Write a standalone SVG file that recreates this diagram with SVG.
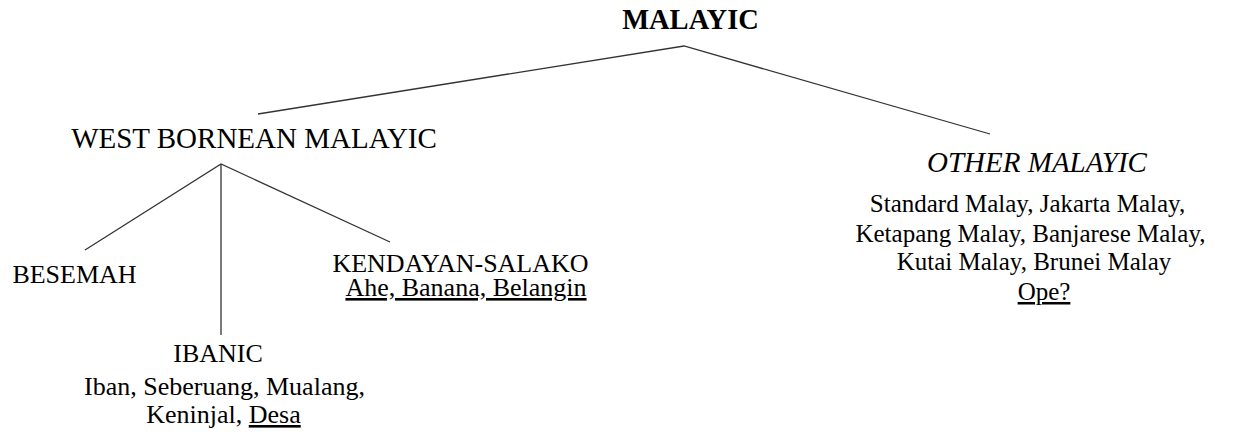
<svg xmlns="http://www.w3.org/2000/svg" width="1233" height="434" viewBox="0 0 1233 434" font-family="'Liberation Serif', 'Times New Roman', 'DejaVu Serif', serif">
<style>
text{font-family:'Liberation Serif','Times New Roman','DejaVu Serif',serif;fill:#000;text-anchor:middle}
.h{font-size:29px}
.b{font-size:26px}
.s{font-size:25px}
.u{text-decoration:underline}
.c{stroke:#333;stroke-width:1.3;fill:none}
</style>
<rect width="1233" height="434" fill="#fff"/>
<g id="connectors">
<polyline class="c" points="258,114 684,46 990,134"/>
<polyline class="c" points="85,250 221,164 390,242"/>
<line class="c" x1="221" y1="164" x2="221" y2="335"/>
</g>
<g id="malayic"><text x="690.5" y="29" style="font-size:28.5px;font-weight:bold">MALAYIC</text></g>
<g id="west-bornean"><text class="h" x="254" y="148">WEST BORNEAN MALAYIC</text></g>
<g id="besemah"><text class="b" x="74.5" y="283">BESEMAH</text></g>
<g id="kendayan-salako">
<text class="b" x="460.5" y="272">KENDAYAN-SALAKO<tspan class="u" x="466" dy="24">Ahe, Banana, Belangin</tspan></text>
</g>
<g id="ibanic">
<text class="b" x="218" y="362">IBANIC<tspan x="224.5" dy="33">Iban, Seberuang, Mualang,</tspan><tspan x="223.5" dy="28">Keninjal, </tspan><tspan class="u">Desa</tspan></text>
</g>
<g id="other-malayic">
<text class="h" x="1037" y="172" font-style="italic">OTHER MALAYIC</text>
<text class="s" x="1027.5" y="212">Standard Malay, Jakarta Malay,<tspan x="1030.5" dy="30">Ketapang Malay, Banjarese Malay,</tspan><tspan x="1034" dy="28">Kutai Malay, Brunei Malay</tspan><tspan class="u" x="1044" dy="30">Ope?</tspan></text>
</g>
</svg>
